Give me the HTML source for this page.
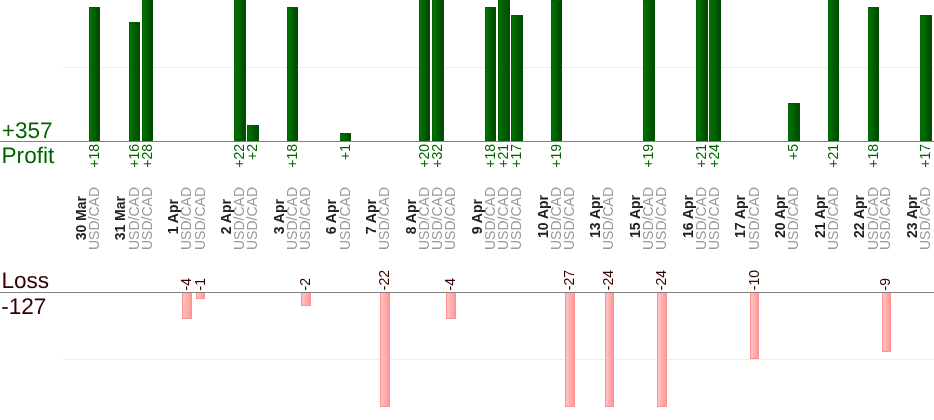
<!DOCTYPE html>
<html><head><meta charset="utf-8"><style>
html,body{margin:0;padding:0;background:#fff;width:934px;height:420px;overflow:hidden;position:relative}
body{font-family:"Liberation Sans",Arial,sans-serif}
#w{position:absolute;left:0;top:0;width:934px;height:420px;will-change:transform;background:#fff}
.ln{position:absolute;left:0;width:934px;height:1px;background:#808080}
.gl{position:absolute;left:63px;width:871px;height:1px;background:#eee}
.big{position:absolute;font-size:22.6px;line-height:25px;white-space:nowrap;text-rendering:geometricPrecision}
.g{color:#006400}
.r{color:#330000}
.v{position:absolute;writing-mode:vertical-rl;transform:rotate(180deg);font-size:14px;line-height:16px;white-space:nowrap}
.d{font-weight:bold;color:#222}
.u{color:#999}
.p{color:#006400}
.n{color:#330000}
.pb{position:absolute;box-sizing:border-box;border:1px solid #005a00;border-left-color:#006200;border-right-color:#005200;background:linear-gradient(to right,#007600,#006600 35%,#004700)}
.lb{position:absolute;box-sizing:border-box;border:1px solid #ff9090;border-top:0;background:linear-gradient(to right,#ffc4c4,#ff9a9a)}
</style></head><body><div id="w">
<div class="gl" style="top:67px"></div>
<div class="gl" style="top:359px"></div>
<div class="v d" style="left:73px;top:196px">30 Mar</div>
<div class="v u" style="left:86px;top:187px">USD/CAD</div>
<div class="pb" style="left:89px;width:11px;top:7px;height:134px"></div>
<div class="v p" style="left:86px;top:144px">+18</div>
<div class="v d" style="left:112px;top:196px">31 Mar</div>
<div class="v u" style="left:126px;top:187px">USD/CAD</div>
<div class="pb" style="left:129px;width:11px;top:22px;height:119px"></div>
<div class="v p" style="left:126px;top:144px">+16</div>
<div class="v u" style="left:139px;top:187px">USD/CAD</div>
<div class="pb" style="left:142px;width:11px;top:-60px;height:201px"></div>
<div class="v p" style="left:139px;top:144px">+28</div>
<div class="v d" style="left:165px;top:199px">1 Apr</div>
<div class="v u" style="left:178px;top:187px">USD/CAD</div>
<div class="lb" style="left:182px;width:10px;top:293px;height:26px"></div>
<div class="v n" style="left:178px;bottom:129.5px">-4</div>
<div class="v u" style="left:192px;top:187px">USD/CAD</div>
<div class="lb" style="left:196px;width:9px;top:293px;height:6px"></div>
<div class="v n" style="left:192px;bottom:129.5px">-1</div>
<div class="v d" style="left:218px;top:199px">2 Apr</div>
<div class="v u" style="left:231px;top:187px">USD/CAD</div>
<div class="pb" style="left:234px;width:12px;top:-60px;height:201px"></div>
<div class="v p" style="left:231px;top:144px">+22</div>
<div class="v u" style="left:244px;top:187px">USD/CAD</div>
<div class="pb" style="left:247px;width:12px;top:125px;height:16px"></div>
<div class="v p" style="left:244px;top:144px">+2</div>
<div class="v d" style="left:271px;top:199px">3 Apr</div>
<div class="v u" style="left:284px;top:187px">USD/CAD</div>
<div class="pb" style="left:287px;width:11px;top:7px;height:134px"></div>
<div class="v p" style="left:284px;top:144px">+18</div>
<div class="v u" style="left:297px;top:187px">USD/CAD</div>
<div class="lb" style="left:301px;width:10px;top:293px;height:13px"></div>
<div class="v n" style="left:297px;bottom:129.5px">-2</div>
<div class="v d" style="left:323px;top:199px">6 Apr</div>
<div class="v u" style="left:337px;top:187px">USD/CAD</div>
<div class="pb" style="left:340px;width:11px;top:133px;height:8px"></div>
<div class="v p" style="left:337px;top:144px">+1</div>
<div class="v d" style="left:363px;top:199px">7 Apr</div>
<div class="v u" style="left:376px;top:187px">USD/CAD</div>
<div class="lb" style="left:380px;width:10px;top:293px;height:114px"></div>
<div class="v n" style="left:376px;bottom:129.5px">-22</div>
<div class="v d" style="left:403px;top:199px">8 Apr</div>
<div class="v u" style="left:416px;top:187px">USD/CAD</div>
<div class="pb" style="left:419px;width:11px;top:-60px;height:201px"></div>
<div class="v p" style="left:416px;top:144px">+20</div>
<div class="v u" style="left:429px;top:187px">USD/CAD</div>
<div class="pb" style="left:432px;width:12px;top:-60px;height:201px"></div>
<div class="v p" style="left:429px;top:144px">+32</div>
<div class="v u" style="left:442px;top:187px">USD/CAD</div>
<div class="lb" style="left:446px;width:10px;top:293px;height:26px"></div>
<div class="v n" style="left:442px;bottom:129.5px">-4</div>
<div class="v d" style="left:469px;top:199px">9 Apr</div>
<div class="v u" style="left:482px;top:187px">USD/CAD</div>
<div class="pb" style="left:485px;width:11px;top:7px;height:134px"></div>
<div class="v p" style="left:482px;top:144px">+18</div>
<div class="v u" style="left:495px;top:187px">USD/CAD</div>
<div class="pb" style="left:498px;width:12px;top:-60px;height:201px"></div>
<div class="v p" style="left:495px;top:144px">+21</div>
<div class="v u" style="left:508px;top:187px">USD/CAD</div>
<div class="pb" style="left:511px;width:12px;top:15px;height:126px"></div>
<div class="v p" style="left:508px;top:144px">+17</div>
<div class="v d" style="left:535px;top:195px">10 Apr</div>
<div class="v u" style="left:548px;top:187px">USD/CAD</div>
<div class="pb" style="left:551px;width:11px;top:0px;height:141px"></div>
<div class="v p" style="left:548px;top:144px">+19</div>
<div class="v u" style="left:561px;top:187px">USD/CAD</div>
<div class="lb" style="left:565px;width:10px;top:293px;height:114px"></div>
<div class="v n" style="left:561px;bottom:129.5px">-27</div>
<div class="v d" style="left:587px;top:195px">13 Apr</div>
<div class="v u" style="left:600px;top:187px">USD/CAD</div>
<div class="lb" style="left:605px;width:9px;top:293px;height:114px"></div>
<div class="v n" style="left:600px;bottom:129.5px">-24</div>
<div class="v d" style="left:627px;top:195px">15 Apr</div>
<div class="v u" style="left:640px;top:187px">USD/CAD</div>
<div class="pb" style="left:643px;width:12px;top:0px;height:141px"></div>
<div class="v p" style="left:640px;top:144px">+19</div>
<div class="v u" style="left:653px;top:187px">USD/CAD</div>
<div class="lb" style="left:657px;width:10px;top:293px;height:114px"></div>
<div class="v n" style="left:653px;bottom:129.5px">-24</div>
<div class="v d" style="left:680px;top:195px">16 Apr</div>
<div class="v u" style="left:693px;top:187px">USD/CAD</div>
<div class="pb" style="left:696px;width:12px;top:-60px;height:201px"></div>
<div class="v p" style="left:693px;top:144px">+21</div>
<div class="v u" style="left:706px;top:187px">USD/CAD</div>
<div class="pb" style="left:709px;width:12px;top:-60px;height:201px"></div>
<div class="v p" style="left:706px;top:144px">+24</div>
<div class="v d" style="left:732px;top:195px">17 Apr</div>
<div class="v u" style="left:746px;top:187px">USD/CAD</div>
<div class="lb" style="left:750px;width:9px;top:293px;height:66px"></div>
<div class="v n" style="left:746px;bottom:129.5px">-10</div>
<div class="v d" style="left:772px;top:195px">20 Apr</div>
<div class="v u" style="left:785px;top:187px">USD/CAD</div>
<div class="pb" style="left:788px;width:12px;top:103px;height:38px"></div>
<div class="v p" style="left:785px;top:144px">+5</div>
<div class="v d" style="left:812px;top:195px">21 Apr</div>
<div class="v u" style="left:825px;top:187px">USD/CAD</div>
<div class="pb" style="left:828px;width:11px;top:-60px;height:201px"></div>
<div class="v p" style="left:825px;top:144px">+21</div>
<div class="v d" style="left:851px;top:195px">22 Apr</div>
<div class="v u" style="left:865px;top:187px">USD/CAD</div>
<div class="pb" style="left:868px;width:11px;top:7px;height:134px"></div>
<div class="v p" style="left:865px;top:144px">+18</div>
<div class="v u" style="left:877px;top:187px">USD/CAD</div>
<div class="lb" style="left:882px;width:9px;top:293px;height:59px"></div>
<div class="v n" style="left:877px;bottom:129.5px">-9</div>
<div class="v d" style="left:904px;top:195px">23 Apr</div>
<div class="v u" style="left:917px;top:187px">USD/CAD</div>
<div class="pb" style="left:920px;width:12px;top:15px;height:126px"></div>
<div class="v p" style="left:917px;top:144px">+17</div>
<div class="ln" style="top:141px"></div>
<div class="ln" style="top:292px"></div>
<div class="big g" style="left:1.7px;top:118px">+357</div>
<div class="big g" style="left:1.55px;top:143px">Profit</div>
<div class="big r" style="left:1.4px;top:268px">Loss</div>
<div class="big r" style="left:1.2px;top:294px">-127</div>
</div></body></html>
